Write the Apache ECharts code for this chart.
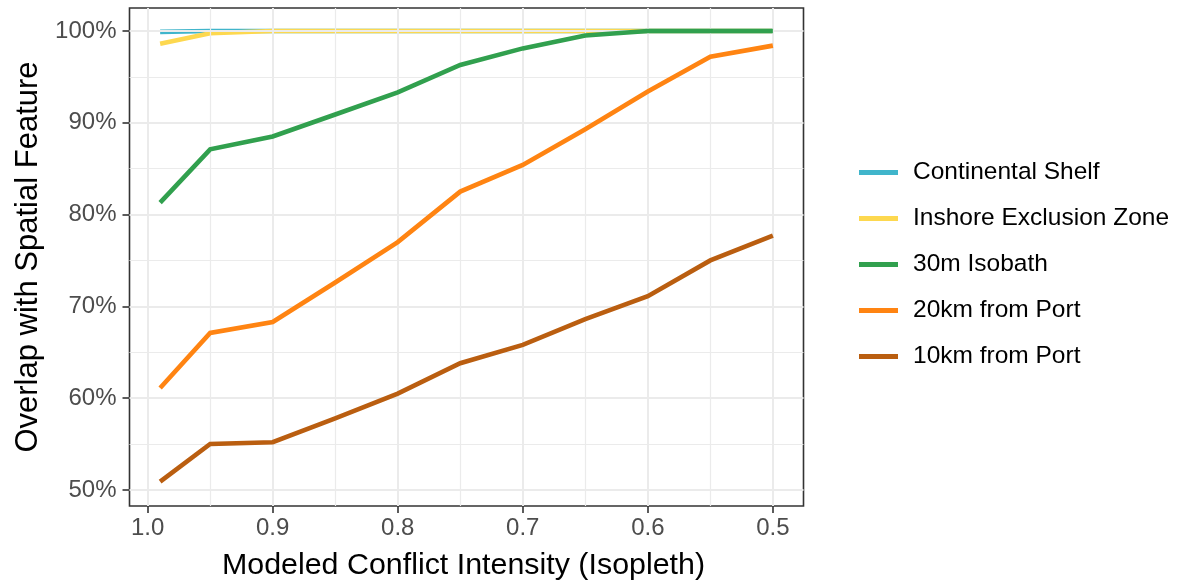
<!DOCTYPE html>
<html>
<head>
<meta charset="utf-8">
<script src="https://cdn.jsdelivr.net/npm/echarts@6/dist/echarts.min.js"></script>
<style>
html,body{margin:0;padding:0;background:#fff;}
#chart{width:1179px;height:586px;}
</style>
</head>
<body>
<div id="chart"></div>
<script>
// ---- data ----
const isopleth = [0.99, 0.95, 0.9, 0.85, 0.8, 0.75, 0.7, 0.65, 0.6, 0.55, 0.5];
const seriesNames = ['Continental Shelf', 'Inshore Exclusion Zone', '30m Isobath', '20km from Port', '10km from Port'];
const continentalShelf = [99.9, 100, 100, 100, 100, 100, 100, 100, 100, 100, 100];
const inshoreExclusion = [98.6, 99.75, 100, 100, 100, 100, 100, 100, 100, 100, 100];
const isobath30m = [81.3, 87.1, 88.5, 90.9, 93.3, 96.3, 98.1, 99.5, 100, 100, 100];
const port20km = [61.1, 67.1, 68.3, 72.6, 77.0, 82.5, 85.4, 89.3, 93.4, 97.2, 98.4];
const port10km = [50.9, 55.0, 55.2, 57.8, 60.5, 63.8, 65.8, 68.6, 71.1, 75.0, 77.7];
const xTicks = [1.0, 0.9, 0.8, 0.7, 0.6, 0.5];
const xMinor = [0.95, 0.85, 0.75, 0.65, 0.55];
const yTicks = [50, 60, 70, 80, 90, 100];
const yMinor = [55, 65, 75, 85, 95];

const colors = ['#40b5cb', '#fdd84f', '#31a04e', '#ff8412', '#ba5e10'];
const values = [continentalShelf, inshoreExclusion, isobath30m, port20km, port10km];
const FONT = 'Liberation Sans, Arial, sans-serif';

const chart = echarts.init(document.getElementById('chart'), null, {renderer: 'canvas'});

const major = {color: '#ebebeb', width: 2, type: 'solid'};
const minor = {color: '#ebebeb', width: 1.2, type: 'solid'};
const gridLines = [];
xTicks.forEach(v => gridLines.push({xAxis: v, lineStyle: major}));
xMinor.forEach(v => gridLines.push({xAxis: v, lineStyle: minor}));
yTicks.forEach(v => gridLines.push({yAxis: v, lineStyle: major}));
yMinor.forEach(v => gridLines.push({yAxis: v, lineStyle: minor}));

const series = [{
  name: '__grid',
  type: 'line',
  z: 1,
  data: [[0.75, 75]],
  showSymbol: false,
  lineStyle: {opacity: 0},
  silent: true,
  animation: false,
  markLine: {
    silent: true,
    symbol: ['none', 'none'],
    label: {show: false},
    animation: false,
    lineStyle: {type: 'solid'},
    data: gridLines
  }
}];
seriesNames.forEach((name, i) => {
  series.push({
    name: name,
    type: 'line',
    z: 3 + i,
    showSymbol: false,
    animation: false,
    color: colors[i],
    lineStyle: {width: 4.6, color: colors[i], cap: 'butt', join: 'miter'},
    data: isopleth.map((x, j) => [x, values[i][j]])
  });
});

chart.setOption({
  animation: false,
  backgroundColor: '#ffffff',
  grid: {left: 129.5, right: 375.5, top: 8, bottom: 77, show: true, borderColor: '#333333', borderWidth: 1.6, backgroundColor: 'transparent'},
  legend: {
    orient: 'vertical',
    left: 854,
    top: 155,
    icon: 'rect',
    itemWidth: 39,
    itemHeight: 5,
    itemGap: 21,
    data: seriesNames,
    textStyle: {fontFamily: FONT, fontSize: 24.5, color: '#000', padding: [0, 0, 0, 10]}
  },
  xAxis: {
    type: 'value',
    inverse: true,
    min: 0.4755,
    max: 1.0145,
    name: 'Modeled Conflict Intensity (Isopleth)',
    nameLocation: 'middle',
    nameGap: 45,
    nameTextStyle: {fontFamily: FONT, fontSize: 30.4, color: '#000', padding: [0, 6, 0, 0]},
    axisLine: {show: false},
    splitLine: {show: false},
    axisTick: {show: true, length: 7, lineStyle: {color: '#333', width: 1.6}, customValues: xTicks},
    axisLabel: {fontFamily: FONT, fontSize: 24, color: '#4d4d4d', margin: 10, customValues: xTicks,
      formatter: v => v.toFixed(1)}
  },
  yAxis: {
    type: 'value',
    min: 48.25,
    max: 102.5,
    name: 'Overlap with Spatial Feature',
    nameLocation: 'middle',
    nameGap: 80,
    nameTextStyle: {fontFamily: FONT, fontSize: 31, color: '#000'},
    axisLine: {show: false},
    splitLine: {show: false},
    axisTick: {show: true, length: 7, lineStyle: {color: '#333', width: 1.6}, customValues: yTicks},
    axisLabel: {fontFamily: FONT, fontSize: 24, color: '#4d4d4d', margin: 13, customValues: yTicks,
      formatter: v => v + '%'}
  },
  series: series
});
</script>
</body>
</html>
